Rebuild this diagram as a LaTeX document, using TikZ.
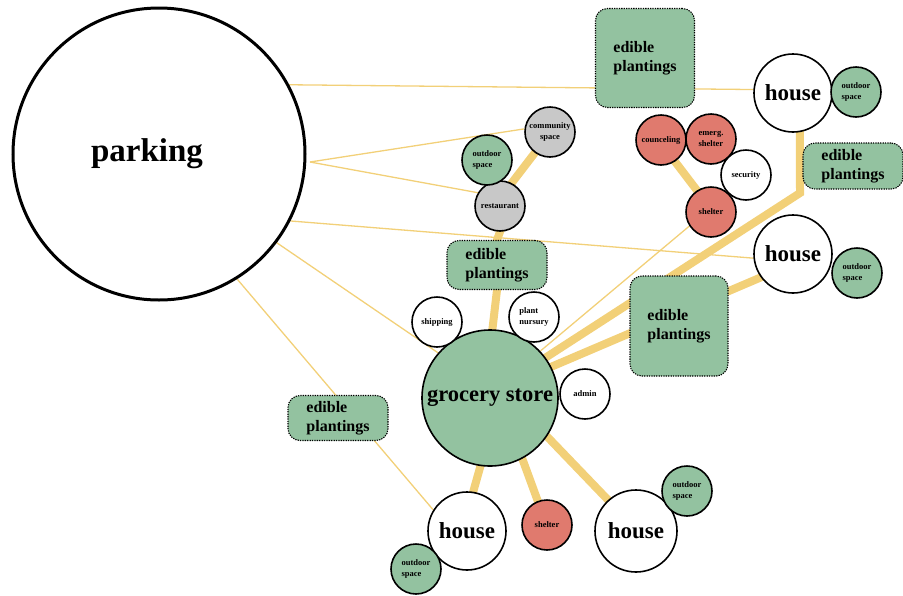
\documentclass[tikz,border=0pt]{standalone}
\usepackage{fontspec}
\setmainfont{Liberation Serif}
\usetikzlibrary{backgrounds}
\definecolor{leaf}{HTML}{93C2A0}
\definecolor{brick}{HTML}{E07A6E}
\definecolor{stone}{HTML}{C8C8C8}
\definecolor{straw}{HTML}{F2D078}
\begin{document}
\begin{tikzpicture}[x=1pt,y=-1pt,
  room/.style={circle,draw=black,line width=1.6pt,fill=white,inner sep=0pt,font=\bfseries},
  small/.style={room,minimum size=50pt,font=\bfseries\fontsize{8.5}{10.5}\selectfont,align=left},
  big/.style={room,minimum size=78pt,font=\bfseries\fontsize{23}{26}\selectfont},
  plot/.style={rectangle,rounded corners=12pt,draw=black,dash pattern=on 1.3pt off 1.1pt,line width=1.1pt,fill=leaf,inner sep=0pt,font=\bfseries\fontsize{16}{18.5}\selectfont,align=left},
  thin/.style={straw,line width=1.3pt},
  thick/.style={straw,line width=8pt,shorten <=-4pt,shorten >=-4pt}]
\useasboundingbox (0,0) rectangle (903,595);
% big ones
\node[room,line width=3pt,minimum size=292pt,font=\bfseries\fontsize{33}{36}\selectfont] (parking) at (159,154) {parking\kern24pt};
\node[room,fill=leaf,minimum size=136pt,font=\bfseries\fontsize{22.5}{26}\selectfont] (grocery) at (490,398) {grocery store};
% restaurant group
\node[small,fill=stone] (restaurant) at (500,206) {restaurant};
\node[small,fill=leaf] (yardA) at (487,160) {outdoor\\space};
\node[small,fill=stone,align=center] (community) at (550,132) {community\\space};
\node[plot,minimum width=100pt,minimum height=49pt] (plotA) at (497,265) {edible\\plantings};
% around the store
\node[small] (shipping) at (437,322) {shipping};
\node[small] (nursery) at (534,317) {plant\\nursury};
\node[small] (admin) at (585,394) {admin};
\node[plot,minimum width=98pt,minimum height=100pt] (plotB) at (679,326) {edible\\plantings};
\node[plot,minimum width=100pt,minimum height=45pt] (plotC) at (338,418) {edible\\plantings};
\node[big] (houseA) at (467,531) {house};
\node[small,fill=leaf] (yardB) at (416,569) {outdoor\\space};
\node[small,fill=brick] (shelterA) at (547,525) {shelter};
\node[big,minimum size=82pt] (houseB) at (636,531) {house};
\node[small,fill=leaf] (yardC) at (687,491) {outdoor\\space};
% upper right
\node[plot,minimum width=99pt,minimum height=99pt] (plotD) at (645,58) {edible\\plantings};
\node[big] (houseC) at (793,93) {house};
\node[small,fill=leaf] (yardD) at (856,92) {outdoor\\space};
\node[small,fill=brick] (counsel) at (661,140) {counceling};
\node[small,fill=brick] (emerg) at (711,139) {emerg.\\shelter};
\node[small] (security) at (746,175) {security};
\node[small,fill=brick] (shelterB) at (711,212) {shelter};
\node[plot,minimum width=100pt,minimum height=46pt] (plotE) at (853,166) {edible\\plantings};
\node[big] (houseD) at (793,254) {house};
\node[small,fill=leaf] (yardE) at (857,273) {outdoor\\space};
% links
\begin{pgfonlayer}{background}
\coordinate (fork) at (310,162);
\coordinate (bend) at (800,193);
\draw[thin] (parking.28) -- (houseC.175);
\draw[thin] (fork) -- (community.173);
\draw[thin] (fork) -- (restaurant.149);
\draw[thin] (parking.-27) -- (houseD.186);
\draw[thin] (parking.-37) -- (grocery.139);
\draw[thin] (parking.-58) -- (houseA.148);
\draw[thin] (shelterB.213) -- (grocery.43);
\draw[thick] (restaurant.63) -- (community.234);
\draw[thick] (plotA.north) -- (restaurant.south);
\draw[thick] (grocery.88) -- (plotA.south);
\draw[thick] (counsel.-57) -- (shelterB.123);
\draw[thick] (grocery.36) -- (bend) -- (houseC.-80);
\draw[thick] (grocery.27) -- (houseD.216);
\draw[thick] (grocery.-98) -- (houseA.81);
\draw[thick] (grocery.-62) -- (shelterA.111);
\draw[thick] (grocery.-34) -- (houseB.132);
\end{pgfonlayer}
\end{tikzpicture}
\end{document}
